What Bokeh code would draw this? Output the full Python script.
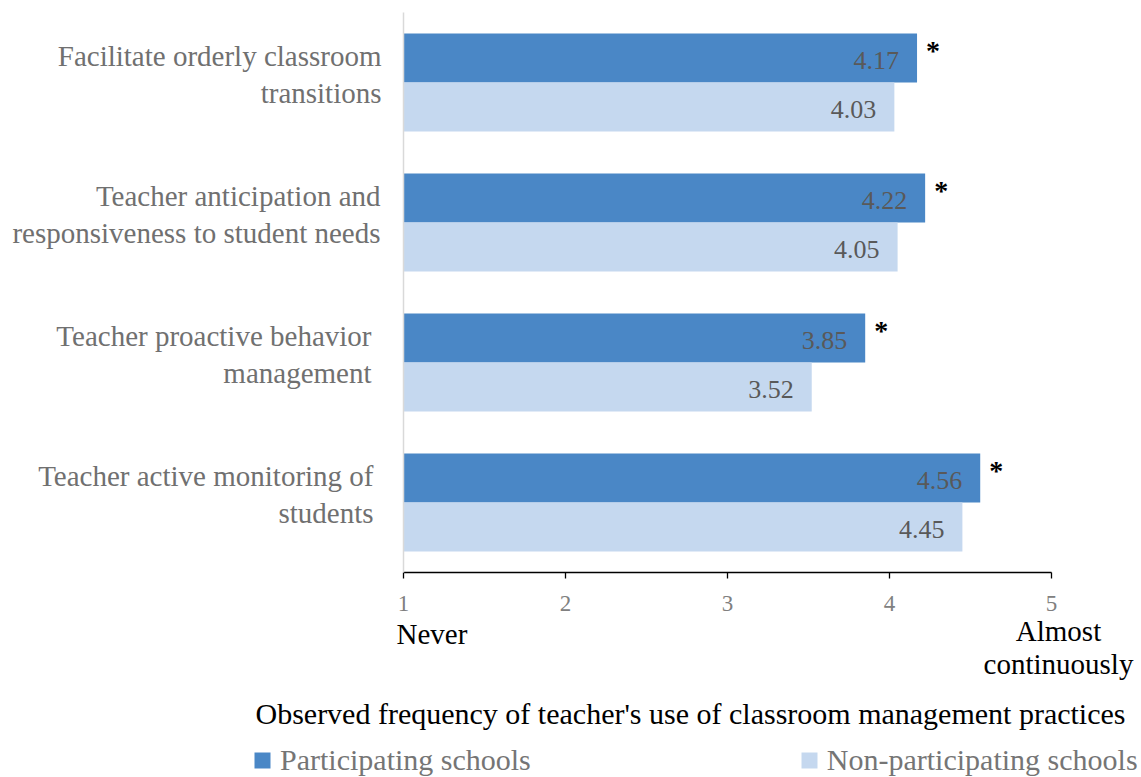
from bokeh.plotting import figure
from bokeh.models import (Range1d, FixedTicker, Legend, LegendItem, ColumnDataSource)
from bokeh.transform import dodge
from bokeh.core.properties import value
from bokeh.embed import file_html
from bokeh.resources import INLINE

# ---------------- data ----------------
categories = [
    "Facilitate orderly classroom\ntransitions",
    "Teacher anticipation and\nresponsiveness to student needs",
    "Teacher proactive behavior\nmanagement",
    "Teacher active monitoring of\nstudents",
]
participating = [4.17, 4.22, 3.85, 4.56]
non_participating = [4.03, 4.05, 3.52, 4.45]
significant = [True, True, True, True]
x_ticks = [1, 2, 3, 4, 5]
scale_low = "Never"
scale_high = ["Almost", "continuously"]
x_title = "Observed frequency of teacher's use of classroom management practices"
series_names = ["Participating schools", "Non-participating schools"]

# ---------------- style / layout ----------------
DARK = "#4A87C6"
LIGHT = "#C5D8EF"
FNAME = "Liberation Serif"
FONT = value(FNAME)
label_dx = [-22, -23, -32, -30]
W, H = 1141, 777
PX_X = 162.0        # pixels per x unit
PX_Y = 140.0        # pixels per category
X0_PX = 403         # pixel position of x = 1
AXIS_PX = 572       # pixel position of the x axis line
TOP_PX = 12         # pixel position of the top of the category band
n = len(categories)
AXIS_Y = 0.5
BAR_H = 0.35

cat_y = list(range(n, 0, -1))
src = ColumnDataSource(dict(
    y=cat_y,
    part=participating,
    non=non_participating,
    part_txt=[f"{v:.2f}" for v in participating],
    non_txt=[f"{v:.2f}" for v in non_participating],
    star=["*" if s else "" for s in significant],
    line1=[c.split("\n")[0] for c in categories],
    line2=[c.split("\n")[1] for c in categories],
    dx=label_dx,
))

p = figure(width=W, height=H, output_backend="svg", toolbar_location=None,
           x_range=Range1d(1 - X0_PX / PX_X, 1 + (W - X0_PX) / PX_X),
           y_range=Range1d(AXIS_Y - (H - AXIS_PX) / PX_Y, n + AXIS_Y + TOP_PX / PX_Y),
           min_border_left=0, min_border_right=0, min_border_top=0, min_border_bottom=0)
p.outline_line_color = None
p.grid.visible = False
p.background_fill_color = "white"
p.border_fill_color = "white"

# vertical category axis line at x = 1
yax = p.yaxis[0]
yax.fixed_location = 1
yax.bounds = (AXIS_Y, n + AXIS_Y)
yax.ticker = FixedTicker(ticks=[])
yax.axis_line_color = "#D9D9D9"
yax.axis_line_width = 1.5
yax.major_tick_out = 0
yax.major_tick_in = 0
yax.minor_tick_out = 0
yax.minor_tick_in = 0
yax.major_label_text_font_size = "0px"

# value axis
ax = p.xaxis[0]
ax.fixed_location = AXIS_Y
ax.ticker = FixedTicker(ticks=x_ticks)
ax.bounds = (1, 5)
ax.axis_line_color = "black"
ax.axis_line_width = 1.3
ax.major_tick_line_color = "black"
ax.major_tick_line_width = 1.3
ax.major_tick_out = 6
ax.major_tick_in = 0
ax.minor_tick_out = 0
ax.minor_tick_in = 0
ax.major_label_standoff = 17
ax.major_label_text_font = FNAME
ax.major_label_text_font_size = "23px"
ax.major_label_text_color = "#808080"

r1 = p.hbar(y=dodge("y", BAR_H / 2), left=1, right="part", height=BAR_H,
            fill_color=DARK, line_color=None, source=src)
r2 = p.hbar(y=dodge("y", -BAR_H / 2), left=1, right="non", height=BAR_H,
            fill_color=LIGHT, line_color=None, source=src)

# value labels
p.text(x="part", y=dodge("y", BAR_H / 2), text="part_txt", x_offset=-18, y_offset=2,
       text_align="right", text_baseline="alphabetic", text_font=FONT, text_font_size="26px",
       text_color="#595959", source=src)
p.text(x="non", y=dodge("y", -BAR_H / 2), text="non_txt", x_offset=-18, y_offset=2,
       text_align="right", text_baseline="alphabetic", text_font=FONT, text_font_size="26px",
       text_color="#595959", source=src)
# significance markers
p.text(x="part", y=dodge("y", BAR_H / 2), text="star", x_offset=9, y_offset=-8,
       text_align="left", text_baseline="alphabetic", text_font=FONT, text_font_size="28px",
       text_font_style="bold", text_color="black", source=src)

# category labels
p.text(x=1, y="y", text="line1", x_offset="dx", y_offset=-27, text_align="right",
       text_baseline="alphabetic", text_font=FONT, text_font_size="29px",
       text_color="#707070", source=src)
p.text(x=1, y="y", text="line2", x_offset="dx", y_offset=10, text_align="right",
       text_baseline="alphabetic", text_font=FONT, text_font_size="29px",
       text_color="#707070", source=src)

# scale end labels and axis title
p.text(x=[1], y=[AXIS_Y], text=[scale_low], x_offset=-7, y_offset=61, text_align="left",
       text_baseline="alphabetic", text_font=FONT, text_font_size="29px", text_color="black")
p.text(x=[5, 5], y=[AXIS_Y, AXIS_Y], text=scale_high, x_offset=7, y_offset=[58, 91],
       text_align="center", text_baseline="alphabetic", text_font=FONT,
       text_font_size="29px", text_color="black")
p.text(x=[5], y=[AXIS_Y], text=[x_title], x_offset=74, y_offset=141, text_align="right",
       text_baseline="alphabetic", text_font=FONT, text_font_size="30px", text_color="black")

legend = Legend(items=[LegendItem(label=series_names[0], renderers=[r1]),
                       LegendItem(label=series_names[1], renderers=[r2])],
                orientation="horizontal", location=(252, 0), spacing=268,
                glyph_width=20, glyph_height=20, label_standoff=8, padding=0, margin=0,
                border_line_color=None, background_fill_alpha=0,
                label_text_font=FNAME, label_text_font_size="30px",
                label_text_color="#757575")
p.add_layout(legend)

open("out.html", "w").write(file_html(p, INLINE))
